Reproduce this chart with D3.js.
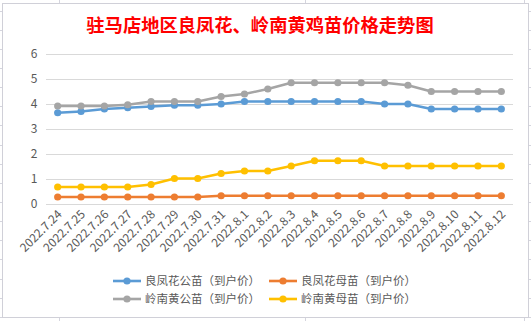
<!DOCTYPE html>
<html><head><meta charset="utf-8">
<script src="https://cdn.jsdelivr.net/npm/d3@7"></script>
<style>
html,body{margin:0;padding:0;background:#fff;}
svg{display:block;}
</style></head>
<body>
<svg id="c" width="531" height="321"></svg>
<script>
const title = "驻马店地区良凤花、岭南黄鸡苗价格走势图";
const categories = ["2022.7.24","2022.7.25","2022.7.26","2022.7.27","2022.7.28","2022.7.29","2022.7.30","2022.7.31","2022.8.1","2022.8.2","2022.8.3","2022.8.4","2022.8.5","2022.8.6","2022.8.7","2022.8.8","2022.8.9","2022.8.10","2022.8.11","2022.8.12"];
const seriesNames = ["良凤花公苗（到户价）","良凤花母苗（到户价）","岭南黄公苗（到户价）","岭南黄母苗（到户价）"];
const lfhMale   = [3.65,3.7,3.8,3.85,3.9,3.95,3.95,4.0,4.1,4.1,4.1,4.1,4.1,4.1,4.0,4.0,3.8,3.8,3.8,3.8];
const lfhFemale = [0.28,0.28,0.28,0.28,0.28,0.28,0.28,0.33,0.33,0.33,0.33,0.33,0.33,0.33,0.33,0.33,0.33,0.33,0.33,0.33];
const lnhMale   = [3.92,3.92,3.92,3.97,4.1,4.1,4.1,4.3,4.4,4.6,4.85,4.85,4.85,4.85,4.85,4.75,4.5,4.5,4.5,4.5];
const lnhFemale = [0.68,0.68,0.68,0.68,0.78,1.02,1.02,1.22,1.32,1.32,1.52,1.73,1.73,1.73,1.52,1.52,1.52,1.52,1.52,1.52];
const yTicks = [0,1,2,3,4,5,6];
const colors = ["#5B9BD5","#ED7D31","#A5A5A5","#FFC000"];
const seriesData = [lfhMale, lfhFemale, lnhMale, lnhFemale];

const svg = d3.select("#c");
const font = "'Noto Sans CJK SC','Microsoft YaHei',sans-serif";

// Excel sheet gridlines peeking around chart
const gridC = "#d5d5de";
[59.5, 305.5, 524.5].forEach(x => svg.append("line").attr("x1",x).attr("x2",x).attr("y1",0).attr("y2",321).attr("stroke",gridC));
d3.range(10.5, 321, 19.15).forEach(y => svg.append("line").attr("x1",0).attr("x2",531).attr("y1",Math.round(y)+0.5).attr("y2",Math.round(y)+0.5).attr("stroke",gridC));

// chart box
svg.append("rect").attr("x",2.5).attr("y",3.5).attr("width",526).attr("height",314)
  .attr("fill","#fff").attr("stroke","#d0d0d8");

svg.append("text").attr("x",260).attr("y",32).attr("text-anchor","middle")
  .attr("font-family","'Noto Sans CJK SC',serif").attr("font-weight","bold")
  .attr("font-size","18.3px").attr("fill","#ff0000").text(title);

const x = d3.scaleBand().domain(categories).range([46,513]);
const y = d3.scaleLinear().domain([0,6]).range([204,54]);

// gridlines
svg.append("g").selectAll("line").data(yTicks).join("line")
  .attr("x1",46).attr("x2",513)
  .attr("y1",d=>Math.round(y(d))+0.5).attr("y2",d=>Math.round(y(d))+0.5)
  .attr("stroke","#d9d9d9").attr("stroke-width",1);

// y axis labels
const yAxis = d3.axisLeft(y).tickValues(yTicks).tickFormat(d3.format("d")).tickSize(0).tickPadding(0);
const gy = svg.append("g").attr("transform","translate(38,0)").call(yAxis);
gy.select(".domain").remove();
gy.selectAll("text").attr("font-family",font).attr("font-size","12px").attr("fill","#595959").attr("text-anchor","middle").attr("dx","-4");

// x axis labels
const xAxis = d3.axisBottom(x).tickSize(0).tickPadding(0);
const gx = svg.append("g").attr("transform","translate(0,204)").call(xAxis);
gx.select(".domain").remove();
gx.selectAll("text").attr("font-family",font).attr("font-size","12px").attr("fill","#595959")
  .attr("text-anchor","end").attr("dy",null).attr("y",0)
  .attr("transform","translate(5,11) rotate(-45)");

// lines
const cx = d => x(d) + x.bandwidth()/2;
seriesData.forEach((vals,i) => {
  const pts = vals.map((v,j)=>[cx(categories[j]), y(v)]);
  svg.append("path").attr("d", d3.line()(pts)).attr("fill","none")
    .attr("stroke",colors[i]).attr("stroke-width",2.6).attr("stroke-linejoin","round").attr("stroke-linecap","round");
  svg.append("g").selectAll("circle").data(pts).join("circle")
    .attr("cx",d=>d[0]).attr("cy",d=>d[1]).attr("r",3.6).attr("fill",colors[i]);
});

// legend
const legPos = [[113,281],[269,281],[113,299],[269,299]];
seriesNames.forEach((n,i)=>{
  const [lx,ly] = legPos[i];
  svg.append("line").attr("x1",lx).attr("x2",lx+28).attr("y1",ly).attr("y2",ly)
    .attr("stroke",colors[i]).attr("stroke-width",2.6);
  svg.append("circle").attr("cx",lx+14).attr("cy",ly).attr("r",3.6).attr("fill",colors[i]);
  svg.append("text").attr("x",lx+32).attr("y",ly+4.2).attr("font-family",font)
    .attr("font-size","11.5px").attr("fill","#595959").text(n);
});
</script>
</body></html>
